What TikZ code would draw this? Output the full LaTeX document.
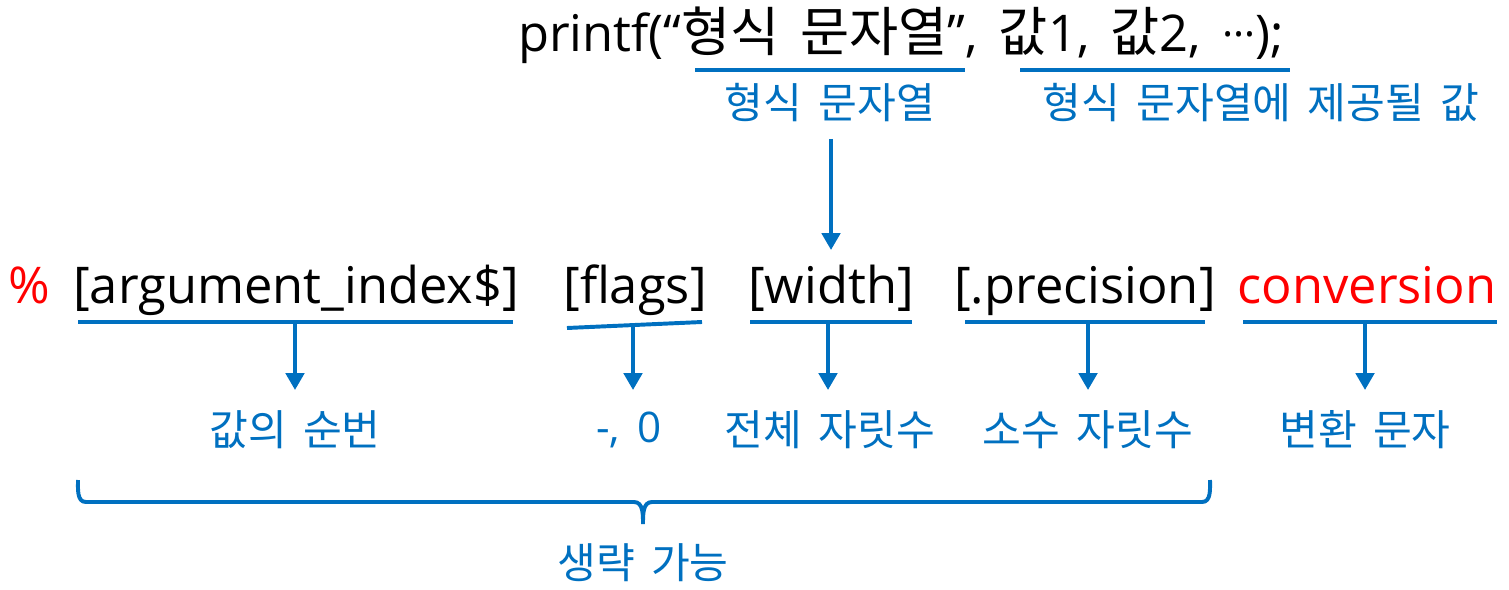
\documentclass[tikz,border=0pt]{standalone}
\usepackage{fontspec}
\setmainfont[WordSpace=1.6]{Open Sans}
\newfontfamily\kr[WordSpace=1.7]{Noto Sans CJK KR}
\usepackage{tikz}
\usetikzlibrary{arrows.meta,positioning}
\definecolor{labelblue}{HTML}{0070C0}
\definecolor{specred}{HTML}{FF0000}

\begin{document}
\begin{tikzpicture}[x=0.025cm,y=-0.025cm,
  spec/.style={font=\fontsize{36}{40}\selectfont,anchor=base,inner sep=0pt},
  note/.style={font=\kr\fontsize{30}{34}\selectfont,text=labelblue,anchor=base,inner sep=0pt},
  uline/.style={labelblue,line width=2.8pt},
  pointer/.style={labelblue,line width=2.8pt,-{Triangle[length=12pt,width=13pt]}}]
  \useasboundingbox (0,0) rectangle (1509,590);
  % printf call and its two parts
  \node[spec,anchor=base west] (call) at (518,52)
    {printf(“{\kr\fontsize{38}{40}\selectfont 형식 문자열}”, {\kr\fontsize{38}{40}\selectfont 값}1, {\kr\fontsize{38}{40}\selectfont 값}2, \raisebox{0.3em}{\fontsize{30}{30}\selectfont …});};
  \coordinate (fmt-l) at (695,70);
  \coordinate (fmt-r) at (965,70);
  \coordinate (args-l) at (1020,70);
  \coordinate (args-r) at (1290,70);
  \draw[uline] (fmt-l)--(fmt-r);
  \draw[uline] (args-l)--(args-r);
  \node[note] (fmtnote) at (830,119) {형식 문자열};
  \node[note] (argsnote) at (1261,119) {형식 문자열에 제공될 값};
  % format specifier
  \node[spec,text=specred] (pct) at (29,303) {\%};
  \node[spec] (argidx) at (296,303) {[argument\_index\$]};
  \node[spec] (flags) at (635,303) {[flags]};
  \node[spec] (width) at (831,303) {[width]};
  \node[spec] (prec) at (1085,303) {[.precision]};
  \node[spec,text=specred] (conv) at (1367,303) {conversion};
  \coordinate (fmtnote-b) at (831,139);
  \coordinate (width-top) at (831,250);
  \draw[pointer] (fmtnote-b) -- (width-top);
  % underlines of the parts
  \coordinate (argidx-l) at (78,322);
  \coordinate (argidx-r) at (513,322);
  \coordinate (flags-l) at (567,328);
  \coordinate (flags-r) at (702,322);
  \coordinate (width-l) at (750,322);
  \coordinate (width-r) at (912,322);
  \coordinate (prec-l) at (965,322);
  \coordinate (prec-r) at (1205,322);
  \coordinate (conv-l) at (1243,322);
  \coordinate (conv-r) at (1497,322);
  \draw[uline] (argidx-l)--(argidx-r);
  \draw[uline] (flags-l)--(flags-r);
  \draw[uline] (width-l)--(width-r);
  \draw[uline] (prec-l)--(prec-r);
  \draw[uline] (conv-l)--(conv-r);
  % meanings
  \node[note] (argidxnote) at (295,445) {값의 순번};
  \node[note,font=\fontsize{30}{34}\selectfont] (flagsnote) at (629,442) {-, 0};
  \node[note] (widthnote) at (830,445) {전체 자릿수};
  \node[note] (precnote) at (1088,445) {소수 자릿수};
  \node[note] (convnote) at (1365,445) {변환 문자};
  \coordinate (argidx-t) at (295,322);
  \coordinate (flags-t) at (633,325);
  \coordinate (width-t) at (828,322);
  \coordinate (prec-t) at (1088,322);
  \coordinate (conv-t) at (1365,322);
  \draw[pointer] (argidx-t) -- (argidx-t |- 0,390);
  \draw[pointer] (flags-t) -- (flags-t |- 0,390);
  \draw[pointer] (width-t) -- (width-t |- 0,390);
  \draw[pointer] (prec-t) -- (prec-t |- 0,390);
  \draw[pointer] (conv-t) -- (conv-t |- 0,390);
  % brace over the optional parts
  \coordinate (brace-l) at (78,480);
  \coordinate (brace-r) at (1210,480);
  \coordinate (brace-tip) at (643,524);
  \draw[uline] (brace-l) to[out=-90,in=180] (86,502) -- (634,502) to[out=0,in=90] (brace-tip)
               to[out=90,in=180] (652,502) -- (1202,502) to[out=0,in=-90] (brace-r);
  \node[note] (optnote) at (643,578) {생략 가능};
\end{tikzpicture}
\end{document}
